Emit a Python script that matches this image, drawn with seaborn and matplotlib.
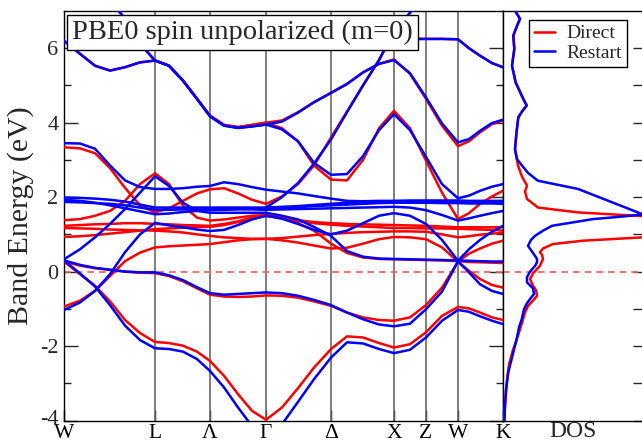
import numpy as np
import pandas as pd
import matplotlib
matplotlib.use("Agg")
import matplotlib.pyplot as plt
import matplotlib.transforms as mtransforms
from matplotlib.lines import Line2D
import seaborn as sns

nan = np.nan

# ---------------- data ----------------
sym_labels = ['W', 'L', 'Λ', 'Γ', 'Δ', 'X', 'Z', 'W', 'K']
sym_k = [0.0, 0.91, 1.46, 2.02, 2.67, 3.30, 3.62, 3.94, 4.39]

k = [0.00, 0.16, 0.31, 0.46, 0.61, 0.76, 0.91, 1.05, 1.19, 1.33, 1.46, 1.60, 1.74, 1.88,
     2.02, 2.18, 2.34, 2.50, 2.67, 2.83, 2.99, 3.15, 3.30, 3.46, 3.62, 3.78, 3.94, 4.05,
     4.16, 4.28, 4.39]

direct_bands = {
    'U0': [8.6, 8.2, 7.8, 7.3, 6.79, 6.12, 5.67, 5.53, 5.13, 4.64, 4.19, 3.94, 3.88, 3.94, 4.0,
           3.85, 3.5, 2.85, 2.47, 2.45, 3.0, 3.85, 4.32, 3.85, 2.98, 2.12, 1.41, 1.57, 1.82, 2.02, 2.17],
    'U1': [6.20, 5.85, 5.53, 5.40, 5.49, 5.62, 5.67, 5.53, 5.13, 4.64, 4.19, 3.94, 3.88, 3.94, 4.00,
           4.06, 4.28, 4.55, 4.80, 5.04, 5.35, 5.58, 5.70, 5.31, 4.64, 3.92, 3.37, 3.50, 3.74, 3.96, 4.06],
    'U2': [nan] * 22 + [6.25, 6.25, 6.25, 6.25, 6.24, 6.0, 5.8, 5.6, 5.49],
    'UW': [3.34, 3.31, 3.18, 2.78, 2.25, 1.78, 1.59, 1.7, 1.9, 2.1, 2.21, 2.24, 2.1, 1.93, 1.82,
           2.02, 2.35, 2.85, 3.6, 4.3, 5.0, 5.68, 6.45, 6.95, 7.5] + [nan] * 6,
    'RH': [1.38, 1.41, 1.5, 1.63, 1.9, 2.35, 2.64, 2.35, 1.77, 1.45, 1.37, 1.4, 1.45, 1.5, 1.52,
           1.45, 1.3, 1.1, 0.75, 0.5, 0.38, 0.34, 0.33, 0.32, 0.31, 0.3, 0.28, 0.26, 0.25, 0.24, 0.23],
    'Ra': [1.23, 1.25, 1.27, 1.28, 1.3, 1.3, 1.28, 1.27, 1.25, 1.24, 1.23, 1.28, 1.35, 1.45, 1.5,
           1.45, 1.38, 1.33, 1.3, 1.28, 1.27, 1.26, 1.25, 1.24, 1.23, 1.21, 1.19, 1.19, 1.19, 1.19, 1.19],
    'Rb': [1.17, 1.16, 1.15, 1.13, 1.12, 1.11, 1.1, 1.08, 1.05, 1.0, 0.96, 0.92, 0.9, 0.88, 0.88,
           0.9, 0.94, 0.98, 1.01, 1.04, 1.06, 1.07, 1.08, 1.08, 1.07, 1.0, 0.92, 0.95, 0.99, 1.02, 1.04],
    'Rc': [0.93, 0.95, 0.98, 1.02, 1.06, 1.1, 1.14, 1.16, 1.18, 1.2, 1.2, 1.25, 1.33, 1.42, 1.5,
           1.44, 1.36, 1.3, 1.26, 1.23, 1.21, 1.19, 1.17, 1.17, 1.16, 1.16, 1.15, 1.14, 1.13, 1.12, 1.1],
    'Rrise': [-0.94, -0.78, -0.52, -0.12, 0.28, 0.51, 0.65, 0.68, 0.70, 0.72, 0.74, 0.79, 0.84, 0.87, 0.88,
              0.84, 0.78, 0.70, 0.62, 0.64, 0.75, 0.87, 0.93, 0.92, 0.87, 0.65, 0.27, 0.48, 0.62, 0.75, 0.83],
    'Rflat': [0.27, 0.16, 0.09, 0.05, 0.0, -0.03, -0.04, -0.12, -0.26, -0.45, -0.62, -0.67, -0.68, -0.67, -0.64,
              -0.65, -0.70, -0.80, -0.92, -1.10, -1.23, -1.30, -1.32, -1.23, -0.90, -0.43, 0.26, 0.02, -0.2, -0.36, -0.43],
    'Rdeep': [0.27, -0.07, -0.38, -0.8, -1.3, -1.65, -1.89, -1.92, -1.99, -2.15, -2.40, -2.8, -3.29, -3.74, -3.98,
              -3.65, -3.13, -2.58, -2.08, -1.74, -1.77, -1.92, -2.04, -1.95, -1.63, -1.19, -0.95, -0.99, -1.10, -1.23, -1.30],
}

restart_bands = {
    'U0': [8.6, 8.2, 7.8, 7.3, 6.79, 6.12, 5.67, 5.53, 5.13, 4.64, 4.17, 3.92, 3.86, 3.9, 3.95,
           3.82, 3.5, 2.92, 2.6, 2.62, 3.1, 3.8, 4.23, 3.8, 3.08, 2.35, 1.97, 2.04, 2.17, 2.28, 2.35],
    'U1': [6.20, 5.85, 5.53, 5.40, 5.49, 5.62, 5.67, 5.53, 5.13, 4.64, 4.17, 3.92, 3.86, 3.90, 3.95,
           4.03, 4.27, 4.55, 4.80, 5.04, 5.35, 5.58, 5.68, 5.33, 4.68, 3.98, 3.47, 3.56, 3.78, 3.99, 4.08],
    'U2': [nan] * 22 + [6.25, 6.25, 6.25, 6.25, 6.24, 6.0, 5.8, 5.6, 5.49],
    'U3': [nan] * 14 + [1.72, 2.0, 2.38, 2.9, 3.55, 4.28, 5.0, 5.68, 6.45, 6.95, 7.5] + [nan] * 6,
    'BC': [3.45, 3.44, 3.3, 2.85, 2.45, 2.27, 2.22, 2.22, 2.24, 2.28, 2.3, 2.4, 2.35, 2.27, 2.2,
           2.15, 2.1, 2.03, 1.96, 1.9, 1.89, 1.9, 1.9, 1.91, 1.91, 1.91, 1.91, 1.9, 1.9, 1.9, 1.9],
    'BF1': [1.99, 1.98, 1.96, 1.93, 1.88, 1.8, 1.72, 1.72, 1.72, 1.72, 1.72, 1.72, 1.72, 1.72, 1.72,
            1.74, 1.76, 1.79, 1.82, 1.85, 1.87, 1.88, 1.89, 1.89, 1.89, 1.88, 1.88, 1.88, 1.88, 1.88, 1.88],
    'BF2': [1.93, 1.9, 1.85, 1.78, 1.7, 1.62, 1.54, 1.56, 1.6, 1.63, 1.65, 1.66, 1.67, 1.67, 1.66,
            1.67, 1.68, 1.69, 1.7, 1.71, 1.72, 1.73, 1.74, 1.72, 1.65, 1.52, 1.37, 1.43, 1.5, 1.57, 1.63],
    'BF3': [1.87, 1.86, 1.84, 1.82, 1.78, 1.72, 1.66, 1.66, 1.67, 1.68, 1.7, 1.7, 1.7, 1.69, 1.68,
            1.7, 1.73, 1.76, 1.78, 1.8, 1.82, 1.84, 1.85, 1.85, 1.85, 1.84, 1.84, 1.83, 1.83, 1.83, 1.82],
    'BH2': [0.33, 0.6, 0.92, 1.28, 1.68, 2.12, 2.56, 2.3, 1.85, 1.63, 1.58, 1.58, 1.58, 1.58, 1.58,
            1.5, 1.4, 1.2, 0.96, 0.55, 0.4, 0.35, 0.34, 0.33, 0.32, 0.31, 0.3, 0.29, 0.28, 0.27, 0.27],
    'BH': [-1.03, -0.83, -0.52, -0.07, 0.52, 1.0, 1.31, 1.24, 1.19, 1.13, 1.09, 1.12, 1.25, 1.4, 1.5,
           1.42, 1.28, 1.12, 1.0, 1.1, 1.3, 1.5, 1.57, 1.5, 1.28, 0.85, 0.29, 0.6, 0.85, 1.07, 1.23],
    'Bflat': [0.3, 0.18, 0.1, 0.05, 0.0, -0.02, -0.02, -0.1, -0.23, -0.42, -0.58, -0.62, -0.6, -0.58, -0.56,
              -0.58, -0.65, -0.76, -0.9, -1.1, -1.28, -1.42, -1.47, -1.4, -1.01, -0.54, 0.28, -0.02, -0.34, -0.52, -0.6],
    'Bdeep': [0.3, -0.05, -0.4, -0.9, -1.45, -1.84, -2.06, -2.08, -2.15, -2.35, -2.67, -3.11, -3.65, -4.15, -4.45,
              -4.1, -3.5, -2.89, -2.31, -1.9, -1.93, -2.08, -2.19, -2.1, -1.77, -1.32, -1.03, -1.08, -1.2, -1.32, -1.41],
}

dos_E_direct = [-4.0, -3.6, -3.2, -2.9, -2.5, -2.1, -1.8, -1.55, -1.28, -1.1, -0.92, -0.78, -0.65, -0.5,
                -0.38, -0.2, -0.05, 0.16, 0.34, 0.45, 0.52, 0.62, 0.74, 0.83, 0.92, 1.0, 1.2, 1.4, 1.46,
                1.52, 1.59, 1.72, 1.95, 2.15, 2.31, 2.55, 2.85, 3.0, 3.29, 3.74, 4.14, 4.3, 4.46, 4.6,
                4.73, 5.08, 5.53, 5.98, 6.34, 6.6, 6.79, 7.01]
dos_direct = [0.1, 0.2, 0.3, 0.4, 0.6, 1.0, 1.4, 1.7, 2.0, 2.2, 2.5, 3.0, 3.4, 3.3,
              3.0, 2.7, 3.0, 3.7, 4.0, 3.9, 3.7, 4.0, 5.0, 8.0, 14.0, 22.0, 20.0, 24.0, 16.0,
              12.0, 7.5, 3.5, 2.4, 2.2, 2.4, 1.9, 1.5, 1.4, 1.2, 1.35, 1.53, 1.9, 2.37, 2.1,
              1.87, 1.27, 0.9, 1.13, 1.03, 1.4, 1.7, 1.2]

dos_E_restart = [-4.0, -3.6, -3.2, -2.7, -2.17, -1.81, -1.5, -1.28, -1.01, -0.85, -0.74, -0.6, -0.45,
                 -0.29, -0.15, 0.0, 0.15, 0.25, 0.34, 0.5, 0.69, 0.85, 0.96, 1.1, 1.23, 1.41, 1.48,
                 1.55, 1.7, 1.85, 2.0, 2.1, 2.22, 2.44, 2.65, 2.85, 3.02, 3.29, 3.74, 4.14, 4.3, 4.46,
                 4.6, 4.73, 5.08, 5.53, 5.98, 6.34, 6.6, 6.79, 7.01]
dos_restart = [0.15, 0.2, 0.3, 0.53, 1.03, 1.37, 1.6, 1.87, 2.1, 2.4, 2.7, 3.1, 3.0,
               2.4, 2.4, 2.7, 3.2, 3.4, 3.4, 3.0, 2.5, 2.8, 3.2, 4.0, 4.9, 9.0, 12.0,
               14.5, 22.0, 18.0, 20.0, 14.0, 7.5, 3.5, 2.5, 1.9, 1.4, 1.2, 1.35, 1.53, 1.9, 2.37,
               2.1, 1.87, 1.27, 0.9, 1.13, 1.03, 1.4, 1.7, 1.2]

series_names = ['Direct', 'Restart']
series_colors = {'Direct': '#ff0000', 'Restart': '#0000ff'}

# ---------------- long-form table ----------------
rows = []
for name, bands in (('Direct', direct_bands), ('Restart', restart_bands)):
    for bname, vals in bands.items():
        for kk, ee in zip(k, vals):
            if not np.isnan(ee):
                rows.append((name, name + '_' + bname, kk, ee))
df = pd.DataFrame(rows, columns=['calc', 'band', 'k', 'E'])

# ---------------- style ----------------
sns.set_theme(style='ticks')
plt.rcParams['font.family'] = ['Liberation Serif', 'DejaVu Serif']
plt.rcParams['axes.unicode_minus'] = False
plt.rcParams['axes.linewidth'] = 1.0

fig = plt.figure(figsize=(6.42, 4.44), dpi=100)
W, H = 642.0, 444.0
ax1 = fig.add_axes([64 / W, 23.5 / H, 439 / W, 409.5 / H])
ax2 = fig.add_axes([503 / W, 23.5 / H, 140 / W, 409.5 / H])

for ax in (ax1, ax2):
    for s in ax.spines.values():
        s.set_color('black')
        s.set_linewidth(1.0)

# band panel
for kx in sym_k[1:-1]:
    ax1.axvline(kx, color='#6a6a6a', lw=1.2, zorder=1)
ax1.axhline(0, color='#ff5a5a', lw=1.2, ls=(0, (4, 3)), zorder=1.5)

sns.lineplot(data=df, x='k', y='E', hue='calc', units='band', estimator=None, sort=False,
             hue_order=series_names, palette=series_colors, lw=1.8, legend=False, ax=ax1, zorder=3)

ax1.set_xlim(sym_k[0], sym_k[-1])
ax1.set_ylim(-4, 7)
ax1.set_xticks(sym_k)
ax1.set_xticklabels(sym_labels, fontsize=15.5)
ax1.set_yticks([-4, -2, 0, 2, 4, 6])
ax1.set_yticklabels(['-4', '-2', '0', '2', '4', '6'], fontsize=16)
ax1.set_yticks([-3, -1, 1, 3, 5], minor=True)
ax1.tick_params(axis='x', direction='in', length=8, width=1, pad=2.5, colors='black')
ax1.tick_params(axis='y', which='major', direction='in', length=10, width=1, left=True, right=True, pad=4)
ax1.tick_params(axis='y', which='minor', direction='in', length=5, width=1, left=True, right=True)
ax1.set_xlabel('')
ax1.set_ylabel('Band Energy (eV)', fontsize=21.5, labelpad=4)

# lift the lowest energy label a little so it clears the first k label
lbl = ax1.get_yticklabels()[0]
lbl.set_transform(lbl.get_transform() + mtransforms.ScaledTranslation(0, 4 / 100, fig.dpi_scale_trans))

ax1.text(0.0185, 0.9475, 'PBE0 spin unpolarized (m=0)', transform=ax1.transAxes,
         fontsize=20.5, ha='left', va='center', zorder=10,
         bbox=dict(boxstyle='square,pad=0.17', fc='white', ec='black', lw=1.0))

# DOS panel
ax2.axhline(0, color='#ff5a5a', lw=1.2, ls=(0, (4, 3)), zorder=1.5)
sns.lineplot(x=dos_direct, y=dos_E_direct, sort=False, estimator=None,
             color=series_colors['Direct'], lw=1.8, ax=ax2, zorder=3)
sns.lineplot(x=dos_restart, y=dos_E_restart, sort=False, estimator=None,
             color=series_colors['Restart'], lw=1.8, ax=ax2, zorder=4)
ax2.set_xlim(0, 14)
ax2.set_ylim(-4, 7)
ax2.set_xticks([])
ax2.set_yticks([-4, -2, 0, 2, 4, 6])
ax2.set_yticks([-3, -1, 1, 3, 5], minor=True)
ax2.tick_params(axis='y', which='both', direction='in', length=7, width=1,
                left=False, right=True, labelleft=False, labelright=False)
ax2.set_xlabel('DOS', fontsize=17, labelpad=0.5)
ax2.set_ylabel('')

handles = [Line2D([], [], color=series_colors[n], lw=1.8) for n in series_names]
leg = ax2.legend(handles, series_names, loc='upper right', bbox_to_anchor=(0.886, 0.978),
                 borderaxespad=0, fontsize=14, frameon=True, fancybox=False, framealpha=1,
                 edgecolor='black', handlelength=1.1, handletextpad=0.6, labelspacing=0.1,
                 borderpad=0.25)
leg.get_frame().set_linewidth(1.0)

fig.savefig('out.png', dpi=100)
